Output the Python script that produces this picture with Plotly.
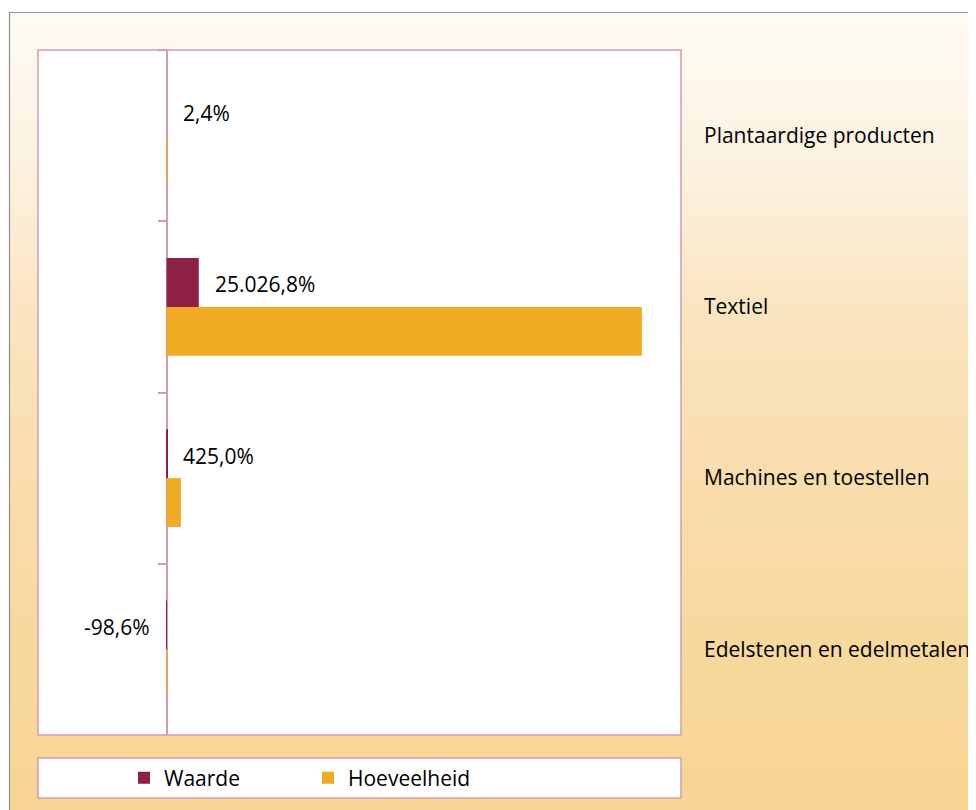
import zlib
import struct
import base64
import plotly.graph_objects as go

# ---------------- data ----------------
categories = ["Plantaardige producten", "Textiel", "Machines en toestellen", "Edelstenen en edelmetalen"]
waarde = [2.4, 25026.8, 425.0, -98.6]
hoeveelheid = [310.0, 369600.0, 11100.0, -92.0]
series_names = ["Waarde", "Hoeveelheid"]
x_range = [-100000, 400000]

# ---------------- style ----------------
COL_W = "#8E2045"
COL_H = "#F0AA24"
PINK = "#D59AB0"
GREY = "#8F8F8F"
FONT = "Open Sans"
FS = 21

# page is rendered with an 8px body margin -> work in page pixels, shift by OFF
OFF = 8
W, H = 976, 810
PLOT_L, PLOT_R, PLOT_T, PLOT_B = 38, 681, 50, 735   # page pixels
L = PLOT_L - OFF
T = PLOT_T - OFF
R = W - (PLOT_R - OFF)
B = H - (PLOT_B - OFF)
PW, PH = W - L - R, H - T - B
BARGAP = 0.43


def pxx(px):
    return (px - OFF - L) / PW


def pxy(py):
    return (H - B - (py - OFF)) / PH


def nl_fmt(v):
    s = f"{v:,.1f}"
    return s.replace(",", "X").replace(".", ",").replace("X", ".") + "%"


def gradient_png(stops, height, width=2):
    raw = bytearray()
    for r in range(height):
        t = r / (height - 1)
        k = 0
        while k < len(stops) - 2 and t > stops[k + 1][0]:
            k += 1
        t0, c0 = stops[k]
        t1, c1 = stops[k + 1]
        f = (t - t0) / (t1 - t0) if t1 > t0 else 0
        f = max(0.0, min(1.0, f))
        rgb = bytes(int(round(c0[i] + (c1[i] - c0[i]) * f)) for i in range(3))
        raw += b"\x00" + rgb * width

    def chunk(tag, data):
        return (struct.pack(">I", len(data)) + tag + data
                + struct.pack(">I", zlib.crc32(tag + data) & 0xFFFFFFFF))

    png = (b"\x89PNG\r\n\x1a\n"
           + chunk(b"IHDR", struct.pack(">IIBBBBB", width, height, 8, 2, 0, 0, 0))
           + chunk(b"IDAT", zlib.compress(bytes(raw), 9))
           + chunk(b"IEND", b""))
    return "data:image/png;base64," + base64.b64encode(png).decode()


grad_stops = [
    (0.0, (254, 251, 245)),
    (0.2, (252, 241, 222)),
    (0.36, (250, 229, 193)),
    (0.58, (248, 221, 172)),
    (0.8, (247, 216, 156)),
    (1.0, (247, 212, 146)),
]
bg_src = gradient_png(grad_stops, 400)

fig = go.Figure()
fig.add_trace(go.Bar(
    y=categories, x=waarde, name=series_names[0], orientation="h",
    marker=dict(color=COL_W, line=dict(width=0)), hoverinfo="x+name",
))
fig.add_trace(go.Bar(
    y=categories, x=hoeveelheid, name=series_names[1], orientation="h",
    marker=dict(color=COL_H, line=dict(width=0)), hoverinfo="x+name",
))
# helper trace for the category axis drawn at zero
fig.add_trace(go.Scatter(
    x=[0] * len(categories), y=categories, yaxis="y2", mode="markers",
    marker=dict(opacity=0), showlegend=False, hoverinfo="skip",
))

offset = (1 - BARGAP) / 4
annotations = []
for i, v in enumerate(waarde):
    pos = v >= 0
    annotations.append(dict(
        x=v, y=i - offset, xref="x", yref="y", text=nl_fmt(v), showarrow=False,
        xanchor="left" if pos else "right", yanchor="middle",
        xshift=14 if pos else -14, yshift=-2,
        font=dict(family=FONT, size=FS, color="#000000"),
    ))

zero_pos = (0 - x_range[0]) / (x_range[1] - x_range[0])

fig.update_layout(
    width=W, height=H,
    margin=dict(l=L, r=R, t=T, b=B, autoexpand=False),
    paper_bgcolor="#FFFFFF", plot_bgcolor="#FFFFFF",
    font=dict(family=FONT, size=FS, color="#000000"),
    barmode="group", bargap=BARGAP, bargroupgap=0,
    separators=",.",
    xaxis=dict(range=x_range, showgrid=False, zeroline=False, showticklabels=False,
               ticks="", showline=False, fixedrange=True),
    yaxis=dict(type="category", categoryorder="array", categoryarray=categories,
               range=[3.5, -0.5], side="right", showline=False, ticks="", showgrid=False,
               zeroline=False, tickfont=dict(family=FONT, size=FS, color="#000000"),
               ticklabelstandoff=22, fixedrange=True),
    yaxis2=dict(type="category", categoryorder="array", categoryarray=categories,
                range=[3.5, -0.5], overlaying="y", anchor="free", position=zero_pos,
                side="left", showline=True, linecolor=PINK, linewidth=1.5,
                ticks="outside", ticklen=8, tickcolor=PINK, tickwidth=1.5,
                tickson="boundaries", showticklabels=False, showgrid=False,
                zeroline=False, fixedrange=True, layer="below traces"),
    legend=dict(orientation="h", x=pxx(124), y=pxy(778), xanchor="left", yanchor="middle",
                bgcolor="rgba(0,0,0,0)", borderwidth=0,
                font=dict(family=FONT, size=FS, color="#000000"),
                entrywidth=139, entrywidthmode="pixels", traceorder="normal"),
    images=[dict(source=bg_src, xref="paper", yref="paper",
                 x=pxx(9), y=pxy(12), sizex=(1000 - 9) / PW, sizey=(830 - 12) / PH,
                 xanchor="left", yanchor="top", sizing="stretch", layer="below")],
    shapes=[
        dict(type="rect", xref="paper", yref="paper", layer="below",
             x0=pxx(9.5), x1=pxx(1200), y0=pxy(1000), y1=pxy(12.5),
             line=dict(color=GREY, width=1.2), fillcolor="rgba(0,0,0,0)"),
        dict(type="rect", xref="paper", yref="paper", layer="below",
             x0=0, x1=1, y0=0, y1=1,
             line=dict(color=PINK, width=1.5), fillcolor="#FFFFFF"),
        dict(type="rect", xref="paper", yref="paper", layer="below",
             x0=0, x1=1, y0=pxy(798), y1=pxy(758),
             line=dict(color=PINK, width=1.5), fillcolor="#FFFFFF"),
    ],
    annotations=annotations,
    showlegend=True,
)

fig.write_html("out.html")
